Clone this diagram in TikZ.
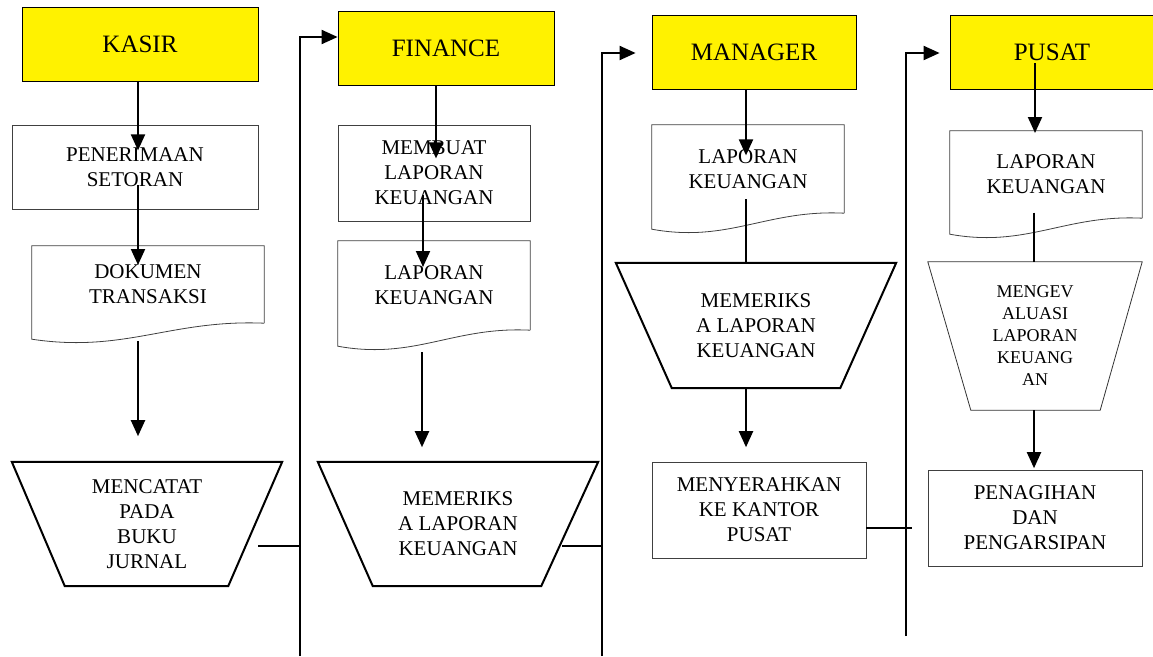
\documentclass[tikz,border=0pt]{standalone}
\usepackage{fontspec}
\setmainfont{Liberation Serif}
\usetikzlibrary{arrows.meta,calc}
\tikzset{
 hdr/.style={draw=black, line width=0.8pt, fill=yellow, inner sep=0pt, font=\fontsize{25}{30}\selectfont},
 proc/.style={draw=black!75, line width=0.8pt, inner sep=0pt, align=center, font=\fontsize{21}{25}\selectfont},
 txt/.style={inner sep=0pt, align=center, font=\fontsize{21}{25}\selectfont},
 small/.style={inner sep=0pt, align=center, font=\fontsize{18}{22}\selectfont},
 docline/.style={draw=black!75, line width=0.8pt},
 trapthick/.style={draw=black, line width=2pt, line join=miter},
 trapthin/.style={draw=black!80, line width=0.8pt},
 conn/.style={line width=2pt},
 arr/.style={conn, -{Triangle[length=16pt,width=14pt]}},
}
\newcommand\docshape[1]{%
 \draw[docline] (#1.south east) -- (#1.north east) -- (#1.north west) -- ($(#1.south west)+(0,16)$)
 .. controls ($(#1.south west)!0.4!(#1.south east)+(0,30)$) and ($(#1.south west)!0.6!(#1.south east)+(0,-4)$) .. (#1.south east);}
\newcommand\trapshape[4]{%
 \draw[#2] (#1.north west) -- (#1.north east) -- ($(#1.south east)+(-#4,0)$) -- ($(#1.south west)+(#3,0)$) -- cycle;}
\begin{document}
\begin{tikzpicture}[x=1pt,y=-1pt]
\fill[white] (0,0) rectangle (1153,656);
\useasboundingbox (0,0) rectangle (1153,656);

% KASIR lane
\node[hdr, minimum width=236, minimum height=74] (kasir) at (140,44) {KASIR};
\node[proc, minimum width=246, minimum height=84] (pen) at (135,167) {PENERIMAAN\\SETORAN};
\node[txt, minimum width=232, minimum height=77] (dok) at (148,284.5) {DOKUMEN\\TRANSAKSI};
\docshape{dok}
\node[txt, minimum width=270, minimum height=124] (catat) at (147,524) {MENCATAT\\PADA\\BUKU\\JURNAL};
\trapshape{catat}{trapthick}{53}{54}

% FINANCE lane
\node[hdr, minimum width=216, minimum height=74] (fin) at (446,48) {FINANCE};
\node[proc, minimum width=192, minimum height=96] (buat) at (434,173) {MEMBUAT\\LAPORAN\\KEUANGAN};
\node[txt, minimum width=192, minimum height=89] (lapf) at (434,285.5) {LAPORAN\\KEUANGAN};
\docshape{lapf}
\node[txt, minimum width=280, minimum height=124] (perf) at (458,524) {MEMERIKS\\A LAPORAN\\KEUANGAN};
\trapshape{perf}{trapthick}{55}{57}

% MANAGER lane
\node[hdr, minimum width=204, minimum height=74] (mgr) at (754,52) {MANAGER};
\node[txt, minimum width=192, minimum height=88] (lapm) at (748,169) {LAPORAN\\KEUANGAN};
\docshape{lapm}
\node[txt, minimum width=280, minimum height=125] (perm) at (756,325.5) {MEMERIKS\\A LAPORAN\\KEUANGAN};
\trapshape{perm}{trapthick}{56}{56}
\node[proc, minimum width=214, minimum height=96] (serah) at (759,510) {MENYERAHKAN\\KE KANTOR\\PUSAT};

% PUSAT lane
\node[hdr, minimum width=204, minimum height=74] (pusat) at (1052,52) {PUSAT};
\node[txt, minimum width=192, minimum height=87] (lapp) at (1046,174.5) {LAPORAN\\KEUANGAN};
\docshape{lapp}
\node[small, minimum width=214, minimum height=148] (eval) at (1035,336) {MENGEV\\ALUASI\\LAPORAN\\KEUANG\\AN};
\trapshape{eval}{trapthin}{43}{42}
\node[proc, minimum width=214, minimum height=96] (tagih) at (1035,518) {PENAGIHAN\\DAN\\PENGARSIPAN};

% vertical flow arrows
\draw[arr] ($(kasir.south)+(-2,0)$) -- ++(0,69);
\draw[arr] ($(pen.center)+(3,18)$) -- ++(0,80);
\draw[arr] ($(dok.south)+(-10,18)$) -- ++(0,95);
\draw[arr] ($(fin.south)+(-10,0)$) -- ++(0,73);
\draw[arr] ($(buat.center)+(-11,22)$) -- ++(0,72);
\draw[arr] ($(lapf.south)+(-12,22)$) -- ++(0,95);
\draw[arr] ($(mgr.south)+(-8,0)$) -- ++(0,66);
\draw[conn] ($(lapm.center)+(-2,30)$) -- ($(perm.north)+(-10,0)$);
\draw[arr] ($(perm.south)+(-10,0)$) -- ++(0,59);
\draw[arr] ($(pusat.center)+(-17,11)$) -- ++(0,70);
\draw[conn] ($(lapp.center)+(-12,38)$) -- ($(eval.north)+(-1,0)$);
\draw[arr] ($(eval.south)+(-1,0)$) -- ++(0,58);

% lane hand-offs
\coordinate (j1) at (300,546);
\coordinate (t1) at (300,37);
\coordinate (b1) at (300,656);
\draw[conn] ($(catat.center)+(111,22)$) -- (j1);
\draw[arr] (b1) -- (t1) -- (fin.west |- t1);

\coordinate (j2) at (602,546);
\coordinate (t2) at (602,53);
\coordinate (b2) at (602,656);
\draw[conn] ($(perf.center)+(104,22)$) -- (j2);
\draw[arr] (b2) -- (t2) -- ($(mgr.west |- t2)+(-16,0)$);

\coordinate (j3) at (912,528);
\coordinate (t3) at (906,53);
\coordinate (b3) at (906,636);
\draw[conn] (serah.east |- j3) -- (j3);
\draw[arr] (b3) -- (t3) -- ($(pusat.west |- t3)+(-10,0)$);
\end{tikzpicture}
\end{document}
